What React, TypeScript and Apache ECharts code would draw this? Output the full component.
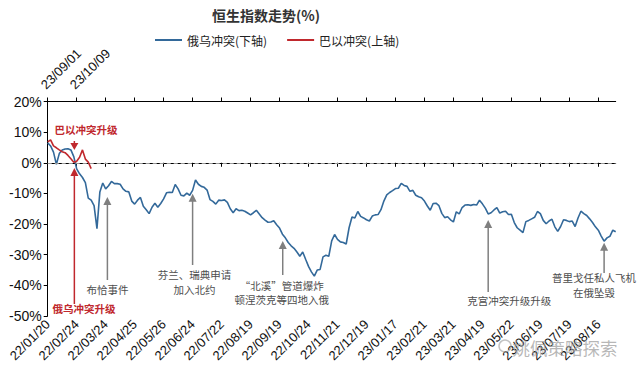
import React, { useEffect, useRef } from 'react';
import * as echarts from 'echarts';

// bottom axis tick labels (one every 10 samples)
const bottomTickLabels = [
  '22/01/20', '22/02/24', '22/03/24', '22/04/25', '22/05/26', '22/06/24', '22/07/22',
  '22/08/19', '22/09/19', '22/10/24', '22/11/21', '22/12/19', '23/01/17', '23/02/21',
  '23/03/21', '23/04/19', '23/05/22', '23/06/19', '23/07/19', '23/08/16',
];
const topTickLabels = ['23/09/01', '23/10/09'];
const SAMPLES_PER_TICK = 10;

// 俄乌冲突 (下轴) — Hang Seng change, %
const russiaUkraine = [
  6.5, 5.5, 3.5, -0.5, 3.0, 4.2, 4.5, 4.6, 4.2, 2.0,
  -2.0, -3.6, -4.8, -6.5, -11.5, -12.2, -14, -21.5, -9.5, -6.6,
  -8.5, -7.5, -6.1, -6.8, -6.8, -7.0, -8.5, -9.3, -9.5, -12.5,
  -13.5, -12.2, -11.3, -14.2, -15.3, -16.6, -14.5, -13.2, -14.5, -13.3,
  -11.8, -9.8, -9.6, -9.7, -7.1, -8.5, -10.6, -10.8, -9.9, -10.6,
  -9.0, -5.6, -7.0, -7.7, -8.0, -8.9, -12.0, -12.6, -13.5, -12.2,
  -12.3, -12.1, -12.9, -15.0, -16.3, -15.0, -15.6, -15.5, -15.8, -16.4,
  -17.0, -16.3, -15.5, -16.7, -17.9, -18.7, -19.4, -19.3, -18.9, -20.2,
  -21.3, -23.3, -24.5, -26.0, -27.1, -27.9, -29.1, -30.5, -29.1, -31.5,
  -33.8, -35.6, -37.0, -35.0, -34.8, -30.7, -30.2, -30.5, -25.5, -23.4,
  -25.0, -25.8, -26.0, -26.5, -21.2, -17.7, -18.0, -15.9, -17.5, -18.0,
  -18.6, -19.0, -17.4, -17.0, -16.9, -15.3, -12.5, -10.5, -9.7, -9.1,
  -8.4, -8.3, -6.7, -7.4, -7.7, -9.3, -9.0, -10.6, -11.1, -11.4,
  -12.5, -14.1, -15.5, -13.3, -13.2, -14.0, -16.5, -17.9, -17.6, -18.6,
  -19.3, -16.0, -16.7, -14.6, -13.8, -13.7, -13.9, -13.6, -13.8, -12.2,
  -13.4, -14.8, -16.7, -16.3, -15.4, -14.6, -16.4, -16.0, -15.8, -16.9,
  -16.8, -19.5, -21.2, -22.0, -22.8, -19.2, -18.8, -18.3, -17.8, -15.9,
  -16.6, -18.8, -19.9, -19.0, -18.4, -20.9, -22.4, -20.8, -18.6, -18.8,
  -19.2, -19.0, -20.8, -18.0, -15.8, -16.6, -17.2, -18.3, -19.5, -20.9,
  -22.0, -23.9, -25.6, -24.5, -24.0, -22.0, -22.5,
];

// 巴以冲突 (上轴)
const israelPalestine = [6.8, 7.5, 5.5, 4.9, 4.2, 3.6, 3.3, 2.4, 1.3, 0.2, 0.5, 1.8, 4.2, 1.2, 0.2, -1.9];

const yTicks = { min: -50, max: 20, interval: 10 };

// events: sample index (fractional) and value at arrow tip
const grayEvents = [
  { idx: 20.6, value: -11.2, text: '布恰事件' },
  { idx: 50.0, value: -10.1, text: '芬兰、瑞典申请\n加入北约' },
  { idx: 81.1, value: -25.5, text: '“北溪”管道爆炸\n顿涅茨克等四地入俄' },
  { idx: 152.0, value: -18.7, text: '克宫冲突升级升级' },
  { idx: 192.0, value: -26.1, text: '普里戈任私人飞机\n在俄坠毁' },
];
const redEventIdx = 9.2;
const redTopLabel = '巴以冲突升级';
const redBottomLabel = '俄乌冲突升级';

const N = russiaUkraine.length;
const bottomCats = Array.from({ length: N }, (_, i) =>
  i % SAMPLES_PER_TICK === 0 && bottomTickLabels[i / SAMPLES_PER_TICK] ? bottomTickLabels[i / SAMPLES_PER_TICK] : '#' + i
);
const topCats = Array.from({ length: N }, (_, i) =>
  i % SAMPLES_PER_TICK === 0 && topTickLabels[i / SAMPLES_PER_TICK] ? topTickLabels[i / SAMPLES_PER_TICK] : '#' + i
);

const BLUE = '#33699A';
const RED = '#C0282D';
const GRAY = '#7F7F7F';
const CJK = '"Noto Sans CJK SC", "Liberation Sans", sans-serif';
const LAT = '"Liberation Sans", Arial, sans-serif';

export default function App() {
  const ref = useRef<HTMLDivElement>(null);
  useEffect(() => {
    const chart = echarts.init(ref.current!, null, { renderer: 'svg' });
    const fmt = (v: string) => (v.startsWith('#') ? '' : v);
    chart.setOption({
      animation: false,
      title: {
        text: '恒生指数走势(%)',
        left: 207,
        top: 3,
        textStyle: { fontSize: 14, fontWeight: 'bold', color: '#333', fontFamily: CJK },
      },
      legend: {
        left: 150,
        top: 29,
        icon: 'rect',
        itemWidth: 27,
        itemHeight: 2,
        itemGap: 20,
        textStyle: { fontSize: 12, color: '#222', fontFamily: CJK },
        data: ['俄乌冲突(下轴)', '巴以冲突(上轴)'],
      },
      grid: { left: 47.7, right: 24.3, top: 101.5, bottom: 58, containLabel: false },
      xAxis: [
        {
          type: 'category',
          data: bottomCats,
          boundaryGap: false,
          position: 'bottom',
          axisLine: { show: true, lineStyle: { color: '#000', width: 1 } },
          axisTick: { show: true, interval: SAMPLES_PER_TICK - 1, length: 4, lineStyle: { color: '#000' } },
          axisLabel: {
            interval: SAMPLES_PER_TICK - 1,
            rotate: 45,
            fontSize: 13,
            color: '#111',
            fontFamily: LAT,
            margin: 6,
            formatter: fmt,
          },
          splitLine: { show: false },
        },
        {
          type: 'category',
          data: topCats,
          boundaryGap: false,
          position: 'top',
          axisLine: { show: true, lineStyle: { color: '#000', width: 1 } },
          axisTick: { show: true, interval: SAMPLES_PER_TICK - 1, length: 4, lineStyle: { color: '#000' } },
          axisLabel: {
            interval: SAMPLES_PER_TICK - 1,
            rotate: -45,
            fontSize: 13,
            color: '#111',
            fontFamily: LAT,
            margin: 10,
            verticalAlign: 'bottom',
            formatter: fmt,
          },
          splitLine: { show: false },
        },
      ],
      yAxis: {
        type: 'value',
        min: yTicks.min,
        max: yTicks.max,
        interval: yTicks.interval,
        axisLine: { show: true, lineStyle: { color: '#000', width: 1 } },
        axisTick: { show: true, length: 4, lineStyle: { color: '#000' } },
        axisLabel: { formatter: '{value}%', fontSize: 14, color: '#111', fontFamily: LAT, margin: 6 },
        splitLine: { show: false },
      },
      series: [
        {
          name: '俄乌冲突(下轴)',
          type: 'line',
          xAxisIndex: 0,
          data: russiaUkraine,
          symbol: 'none',
          lineStyle: { color: BLUE, width: 1.6 },
          itemStyle: { color: BLUE },
          z: 3,
          markLine: {
            silent: true,
            symbol: 'none',
            label: { show: false },
            lineStyle: { type: [4, 3], color: '#9A9A9A', width: 1.2 },
            data: [{ yAxis: 0 }],
          },
        },
        {
          name: '巴以冲突(上轴)',
          type: 'line',
          xAxisIndex: 1,
          data: israelPalestine,
          symbol: 'none',
          lineStyle: { color: RED, width: 1.6 },
          itemStyle: { color: RED },
          z: 4,
        },
      ],
    });

    const p0 = chart.convertToPixel({ seriesIndex: 0 }, [0, 0]) as number[];
    const p10 = chart.convertToPixel({ seriesIndex: 0 }, [10, 0]) as number[];
    const step = (p10[0] - p0[0]) / 10;
    const X = (i: number) => p0[0] + i * step;
    const Y = (v: number) => (chart.convertToPixel({ seriesIndex: 0 }, [0, v]) as number[])[1];

    // layout (pixels) for annotation shafts and texts
    const layout = [
      { shaftEnd: 280, textX: 0, textY: 289 },
      { shaftEnd: 265, textX: 2, textY: 282 },
      { shaftEnd: 275, textX: -1, textY: 292.5 },
      { shaftEnd: 292, textX: 21, textY: 300 },
      { shaftEnd: 273, textX: -10, textY: 285 },
    ];

    const g: any[] = [];
    const arrowUp = (x: number, ty: number, by: number, color: string, w = 1.5) => {
      g.push({
        type: 'line',
        z: 50,
        shape: { x1: x, y1: ty + 6, x2: x, y2: by },
        style: { stroke: color, lineWidth: w },
      });
      g.push({
        type: 'polygon',
        z: 50,
        shape: { points: [[x, ty], [x - 4, ty + 8], [x + 4, ty + 8]] },
        style: { fill: color },
      });
    };
    grayEvents.forEach((e, k) => {
      const x = X(e.idx);
      const ty = Y(e.value);
      const L = layout[k];
      arrowUp(x, ty, L.shaftEnd, GRAY, 1.5);
      g.push({
        type: 'text',
        z: 50,
        x: x + L.textX,
        y: L.textY,
        style: {
          text: e.text,
          fill: '#4D4D4D',
          fontSize: 10.5,
          fontFamily: CJK,
          lineHeight: 14.5,
          align: 'center',
          textAlign: 'center',
          verticalAlign: 'middle',
          textVerticalAlign: 'middle',
        },
      });
    });

    // red annotations
    const rx = X(redEventIdx);
    arrowUp(rx, 168, 304, RED, 1.5);
    g.push({
      type: 'line',
      z: 50,
      shape: { x1: rx, y1: 141, x2: rx, y2: 144 },
      style: { stroke: RED, lineWidth: 1.5 },
    });
    g.push({
      type: 'polygon',
      z: 50,
      shape: { points: [[rx, 150], [rx - 4, 143], [rx + 4, 143]] },
      style: { fill: RED },
    });
    g.push({
      type: 'text',
      z: 50,
      x: 86,
      y: 129,
      style: {
        text: redTopLabel, fill: RED, fontSize: 10.5, fontWeight: 'bold', fontFamily: CJK,
        align: 'center', textAlign: 'center', verticalAlign: 'middle', textVerticalAlign: 'middle',
      },
    });
    g.push({
      type: 'text',
      z: 50,
      x: 84,
      y: 308,
      style: {
        text: redBottomLabel, fill: RED, fontSize: 10.5, fontWeight: 'bold', fontFamily: CJK,
        align: 'center', textAlign: 'center', verticalAlign: 'middle', textVerticalAlign: 'middle',
      },
    });

    // watermark
    g.push({
      type: 'circle',
      z: 60,
      shape: { cx: 505, cy: 346, r: 6 },
      style: { fill: 'none', stroke: 'rgba(170,170,170,0.7)', lineWidth: 1.5 },
    });
    g.push({
      type: 'text',
      z: 60,
      x: 565,
      y: 347,
      style: {
        text: '姚佩策略探索', fill: 'rgba(160,160,160,0.75)', fontSize: 17.5, fontFamily: CJK,
        align: 'center', textAlign: 'center', verticalAlign: 'middle', textVerticalAlign: 'middle',
      },
    });

    chart.setOption({ graphic: g });
    return () => chart.dispose();
  }, []);
  return (
    <div
      ref={ref}
      style={{ position: 'absolute', left: 0, top: 0, width: 640, height: 374, background: '#fff' }}
    />
  );
}
